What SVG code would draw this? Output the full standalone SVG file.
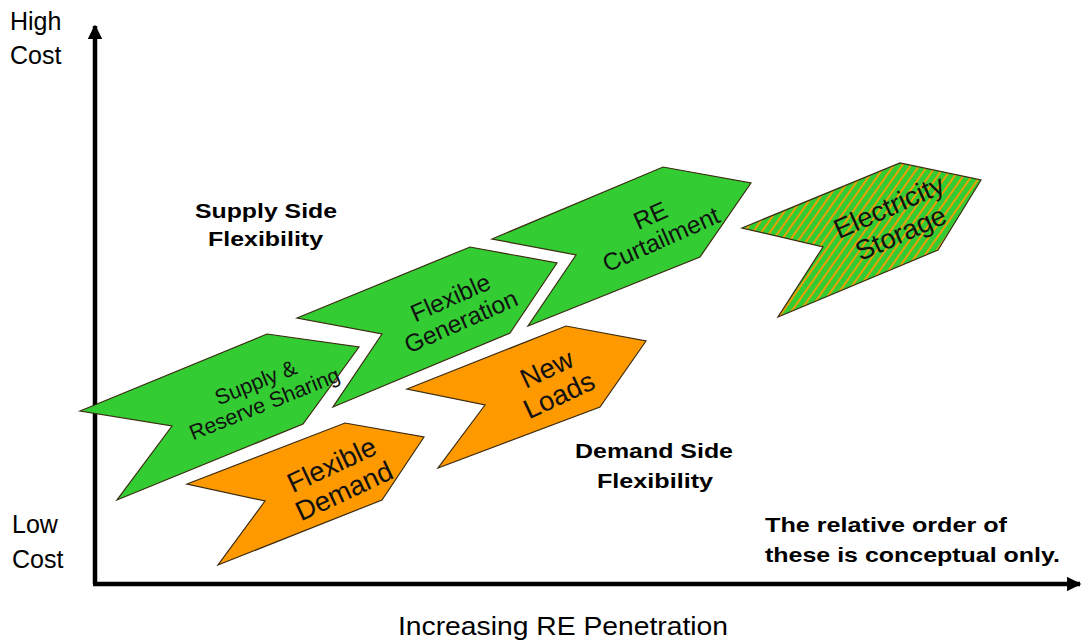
<svg xmlns="http://www.w3.org/2000/svg" width="1084" height="640" viewBox="0 0 1084 640">
<style>
text{font-family:"Liberation Sans",Arial,sans-serif;fill:#000}
.ax{font-size:25px}
.bold{font-size:21px;font-weight:bold}
.chev{stroke:#3a2a10;stroke-width:1.2;stroke-linejoin:miter}
.green{fill:#33cc33}
.orange{fill:#ff9900}
.lbl{text-anchor:middle;fill:#111}
.axis{fill:none;stroke:#000;stroke-width:4.5}
</style>
<defs>
<pattern id="hatch" width="7" height="7" patternUnits="userSpaceOnUse" patternTransform="rotate(35)">
<rect width="7" height="7" fill="#33cc33"/>
<rect width="1.8" height="7" fill="#ff9900"/>
</pattern>
<marker id="arr" viewBox="0 0 10 10" refX="9" refY="5" markerWidth="3.2" markerHeight="3.2" orient="auto" markerUnits="strokeWidth">
<path d="M0,0 L10,5 L0,10 z" fill="#000"/>
</marker>
</defs>
<rect width="1084" height="640" fill="#fff"/>

<g id="connectors">
<path class="axis" d="M95,584 V26" marker-end="url(#arr)"/>
<path class="axis" d="M93,584 H1080" marker-end="url(#arr)"/>
</g>

<g id="axis-labels">
<text class="ax" x="10" y="30">High</text>
<text class="ax" x="10" y="64">Cost</text>
<text class="ax" x="12" y="533">Low</text>
<text class="ax" x="12" y="568">Cost</text>
<text class="ax" x="398" y="635" textLength="330" lengthAdjust="spacingAndGlyphs">Increasing RE Penetration</text>
</g>

<g id="supply-label">
<text class="bold" x="195" y="218" textLength="142" lengthAdjust="spacingAndGlyphs">Supply Side</text>
<text class="bold" x="208" y="246" textLength="115" lengthAdjust="spacingAndGlyphs">Flexibility</text>
</g>

<g id="demand-label">
<text class="bold" x="575" y="458" textLength="158" lengthAdjust="spacingAndGlyphs">Demand Side</text>
<text class="bold" x="597" y="488" textLength="116" lengthAdjust="spacingAndGlyphs">Flexibility</text>
</g>

<g id="note">
<text class="bold" x="765" y="532" textLength="242" lengthAdjust="spacingAndGlyphs">The relative order of</text>
<text class="bold" x="765" y="562" textLength="295" lengthAdjust="spacingAndGlyphs">these is conceptual only.</text>
</g>

<g id="supply-reserve-sharing">
<polygon class="chev green" points="80,411 267,334 359,347 303,424 117,500 172,426"/>
<g transform="translate(260,393) rotate(-22)">
<text class="lbl" x="0" y="-4" font-size="21.5">Supply &amp;</text>
<text class="lbl" x="0" y="19" font-size="21.5">Reserve Sharing</text>
</g>
</g>

<g id="flexible-generation">
<polygon class="chev green" points="297,318 470,247 557,263 510,333 333,407 382,334"/>
<g transform="translate(455,308) rotate(-24)">
<text class="lbl" x="0" y="-3" font-size="24.5">Flexible</text>
<text class="lbl" x="0" y="23" font-size="24.5">Generation</text>
</g>
</g>

<g id="re-curtailment">
<polygon class="chev green" points="492,239 663,167 751,183 700,257 528,326 576,255"/>
<g transform="translate(655,226) rotate(-24)">
<text class="lbl" x="0" y="-3" font-size="24.5">RE</text>
<text class="lbl" x="0" y="23" font-size="24.5">Curtailment</text>
</g>
</g>

<g id="electricity-storage">
<polygon class="chev" fill="url(#hatch)" points="742,228 900,163 981,180 938,250 778,317 823,247"/>
<g transform="translate(894,218) rotate(-24)">
<text class="lbl" x="0" y="-3" font-size="27.5">Electricity</text>
<text class="lbl" x="0" y="26" font-size="27.5">Storage</text>
</g>
</g>

<g id="flexible-demand">
<polygon class="chev orange" points="187,484 345,423 424,437 382,500 218,565 265,501"/>
<g transform="translate(337,476) rotate(-25)">
<text class="lbl" x="0" y="-3" font-size="27.5">Flexible</text>
<text class="lbl" x="0" y="26" font-size="27.5">Demand</text>
</g>
</g>

<g id="new-loads">
<polygon class="chev orange" points="407,389 566,326 646,341 600,407 438,468 485,405"/>
<g transform="translate(552,380) rotate(-25)">
<text class="lbl" x="0" y="-3" font-size="27.5">New</text>
<text class="lbl" x="0" y="26" font-size="27.5">Loads</text>
</g>
</g>
</svg>
